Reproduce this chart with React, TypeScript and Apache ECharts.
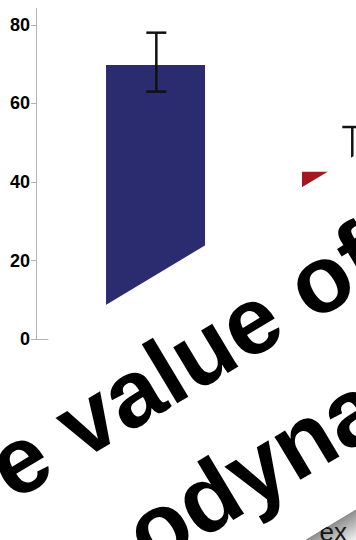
import React, { useEffect, useRef } from 'react';
import * as echarts from 'echarts';

// ---- data ----
const groupPositions = [1, 2];
const barValues = [69.8, 42.6];
const errorLow = [63.0, 31.0];
const errorHigh = [78.0, 54.0];
const barColors = ['#2b2b6f', '#a3171f'];
const yTickValues = [0, 20, 40, 60, 80];
const bannerLines = ['e value of', 'odynamic'];
const axisTitle = 'ex';

const ANGLE = (31 * Math.PI) / 180;
const BANNER_FONT = 95;

export default function App() {
  const ref = useRef<HTMLDivElement>(null);

  useEffect(() => {
    if (!ref.current) return;
    const chart = echarts.init(ref.current, undefined, { renderer: 'svg' });

    const barData = groupPositions.map((x, i) => ({
      value: [x, barValues[i]],
      itemStyle: { color: barColors[i] },
    }));
    const errData = groupPositions.map((x, i) => [x, errorLow[i], errorHigh[i]]);

    const option: any = {
      animation: false,
      backgroundColor: '#ffffff',
      grid: { left: 36, top: 8.3, right: 0, bottom: 200.7, containLabel: false },
      xAxis: {
        type: 'value',
        min: 0.39,
        max: 2.023,
        axisLine: { show: true, lineStyle: { color: '#b3b3b3', width: 1 } },
        axisTick: { show: false },
        axisLabel: { show: false },
        splitLine: { show: false },
      },
      yAxis: {
        type: 'value',
        min: 0,
        max: 84.2,
        interval: 20,
        axisLine: { show: true, lineStyle: { color: '#b3b3b3', width: 1 } },
        axisTick: {
          show: true,
          length: 5,
          customValues: yTickValues,
          lineStyle: { color: '#b3b3b3' },
        },
        axisLabel: {
          show: true,
          margin: 6,
          customValues: yTickValues,
          color: '#000',
          fontSize: 18,
          fontWeight: 'bold',
          fontFamily: 'Liberation Sans, Arial, sans-serif',
        },
        splitLine: { show: false },
      },
      series: [
        {
          type: 'bar',
          data: barData,
          barWidth: 99,
          clip: true,
        },
        {
          type: 'custom',
          data: errData,
          encode: { x: 0, y: [1, 2] },
          z: 5,
          renderItem: (params: any, api: any) => {
            const x = api.value(0);
            const pLo = api.coord([x, api.value(1)]);
            const pHi = api.coord([x, api.value(2)]);
            const cw = 10;
            const style = { stroke: '#111', lineWidth: 2.5 };
            const cx = pHi[0] + 0.8;
            return {
              type: 'group',
              children: [
                { type: 'line', shape: { x1: cx, y1: pHi[1], x2: cx, y2: pLo[1] }, style },
                { type: 'line', shape: { x1: cx - cw, y1: pHi[1], x2: cx + cw, y2: pHi[1] }, style },
                { type: 'line', shape: { x1: cx - cw, y1: pLo[1], x2: cx + cw, y2: pLo[1] }, style },
              ],
            };
          },
        },
      ],
      graphic: [
        {
          type: 'text',
          z: 50,
          style: {
            text: axisTitle,
            x: 347,
            y: 532,
            align: 'right',
            verticalAlign: 'middle',
            fill: '#222',
            font: '26px Liberation Sans, Arial, sans-serif',
          },
        },
        {
          type: 'group',
          x: 0,
          y: 0,
          rotation: ANGLE,
          z: 100,
          children: [
            {
              type: 'rect',
              z: 100,
              shape: { x: -700, y: 620, width: 1600, height: 30 },
              style: {
                fill: {
                  type: 'linear',
                  x: 0, y: 0, x2: 0, y2: 1,
                  colorStops: [
                    { offset: 0, color: 'rgba(0,0,0,0.45)' },
                    { offset: 1, color: 'rgba(0,0,0,0)' },
                  ],
                },
              },
            },
            {
              type: 'rect',
              z: 101,
              shape: { x: -700, y: 316, width: 1600, height: 304 },
              style: { fill: '#ffffff' },
            },
            {
              type: 'text',
              z: 102,
              style: {
                text: bannerLines[0],
                x: -247.5,
                y: 437 - 0.3465 * BANNER_FONT,
                align: 'left',
                verticalAlign: 'middle',
                fill: '#000',
                font: `bold ${BANNER_FONT}px Liberation Sans, Arial, sans-serif`,
              },
            },
            {
              type: 'text',
              z: 102,
              style: {
                text: bannerLines[1],
                x: -165,
                y: 566 - 0.3465 * BANNER_FONT,
                align: 'left',
                verticalAlign: 'middle',
                fill: '#000',
                font: `bold ${BANNER_FONT}px Liberation Sans, Arial, sans-serif`,
              },
            },
          ],
        },
      ],
    };

    chart.setOption(option);
    return () => chart.dispose();
  }, []);

  return (
    <div
      ref={ref}
      style={{ position: 'fixed', left: 0, top: 0, width: 356, height: 540 }}
    />
  );
}
